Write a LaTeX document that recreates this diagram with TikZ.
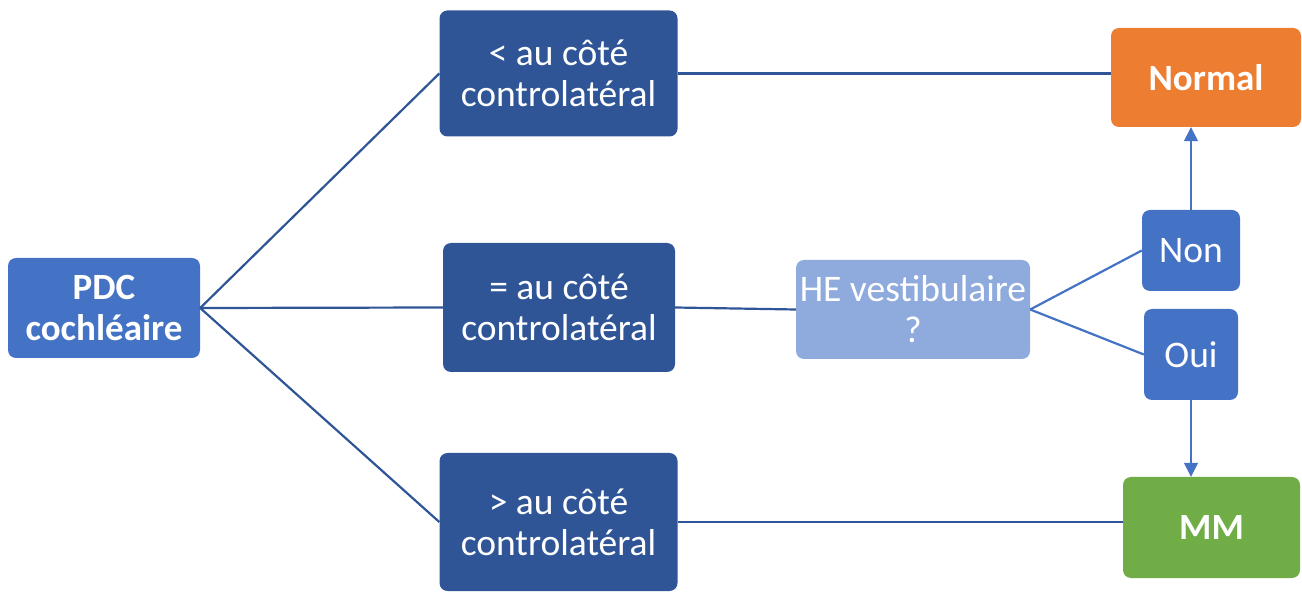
\documentclass[tikz,border=0pt]{standalone}
\usepackage{fontspec}
\setmainfont{Carlito}
\usetikzlibrary{arrows.meta}
\definecolor{dblue}{HTML}{2F5597}
\definecolor{mblue}{HTML}{4472C4}
\definecolor{lblue}{HTML}{8FAADC}
\definecolor{orng}{HTML}{ED7D31}
\definecolor{grn}{HTML}{70AD47}
\begin{document}
\begin{tikzpicture}[x=1pt,y=-1pt,
  box/.style={rectangle, rounded corners=8pt, inner sep=0pt, align=center, text=white,
    font=\fontsize{37.5}{41}\selectfont},
  boldbox/.style={box, font=\fontsize{37}{41}\selectfont\bfseries},
  link/.style={draw=dblue, line width=2.2pt},
  sublink/.style={draw=mblue, line width=2.2pt},
  arr/.style={draw=mblue, line width=1.5pt, -{Triangle[length=14pt,width=14pt]}}]
\useasboundingbox (0,0) rectangle (1302,593);
\node[boldbox, fill=mblue, minimum width=192pt, minimum height=100pt] (pdc) at (104,308) {PDC\\cochléaire};
\node[box, fill=dblue, minimum width=238pt, minimum height=126pt] (lt) at (558.5,73.5) {< au côté\\controlatéral};
\node[box, fill=dblue, minimum width=232pt, minimum height=129pt] (eq) at (559,307.5) {= au côté\\controlatéral};
\node[box, fill=dblue, minimum width=238pt, minimum height=138pt] (gt) at (558.5,522) {> au côté\\controlatéral};
\node[box, fill=lblue, minimum width=234pt, minimum height=99pt] (he) at (913,309.5) {HE vestibulaire\\?};
\node[box, fill=mblue, minimum width=98pt, minimum height=81pt] (non) at (1191,250.5) {Non};
\node[box, fill=mblue, minimum width=94pt, minimum height=91pt] (oui) at (1191,354.5) {Oui};
\node[boldbox, fill=orng, minimum width=190pt, minimum height=99pt] (normal) at (1206,77.5) {Normal};
\node[boldbox, fill=grn, minimum width=177pt, minimum height=101pt] (mm) at (1211.5,527.5) {MM};
\draw[link] (pdc.east) -- (lt.west);
\draw[link] (pdc.east) -- (eq.west);
\draw[link] (pdc.east) -- (gt.west);
\draw[link] (lt.east) -- (normal.west |- lt.east);
\draw[link] (gt.east) -- (mm.west |- gt.east);
\draw[link] (eq.east) -- (he.west);
\draw[sublink] (he.east) -- (non.west);
\draw[sublink] (he.east) -- (oui.west);
\draw[arr] (non.north) -- (non.north |- normal.south);
\draw[arr] (oui.south) -- (oui.south |- mm.north);
\end{tikzpicture}
\end{document}
